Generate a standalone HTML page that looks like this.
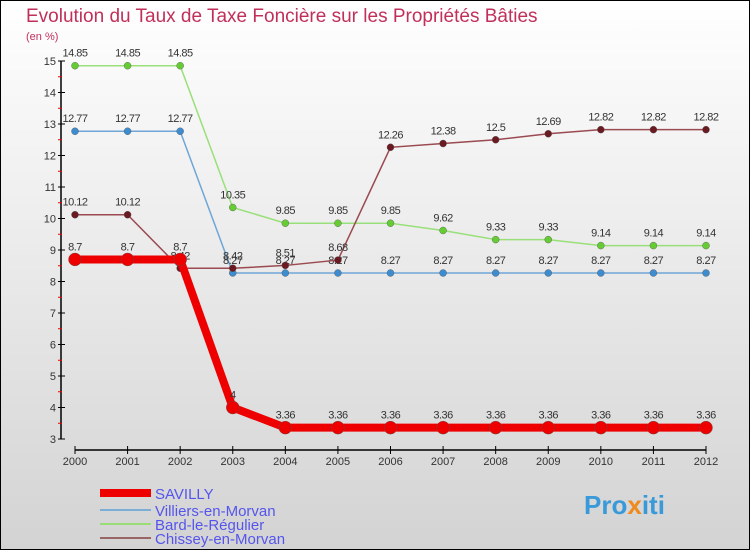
<!DOCTYPE html>
<html><head><meta charset="utf-8"><style>
body{margin:0}
#wrap{width:750px;height:550px;position:relative;overflow:hidden}
svg text{font-family:"Liberation Sans",sans-serif}
</style></head><body>
<div id="wrap">
<svg id="c" width="750" height="550" xmlns="http://www.w3.org/2000/svg">
<defs><linearGradient id="bg" x1="0" y1="0" x2="0" y2="1"><stop offset="0" stop-color="#ffffff"/><stop offset="1" stop-color="#d3d3d3"/></linearGradient></defs>
<rect x="0.5" y="0.5" width="749" height="549" fill="url(#bg)" stroke="#000"/>
<text x="26" y="22" font-size="19" fill="#c0305a">Evolution du Taux de Taxe Foncière sur les Propriétés Bâties</text>
<text x="26" y="40" font-size="11" fill="#c0305a">(en %)</text>
<g id="g"></g>
<text x="584" y="514" font-size="26" font-weight="bold" fill="#3a9ad9">Pro<tspan fill="#f08a1c">x</tspan>iti</text>
</svg></div>
<script>
const years=["2000","2001","2002","2003","2004","2005","2006","2007","2008","2009","2010","2011","2012"];
const yTicks=[3,4,5,6,7,8,9,10,11,12,13,14,15];
const savilly=[8.7,8.7,8.7,4,3.36,3.36,3.36,3.36,3.36,3.36,3.36,3.36,3.36];
const villiers=[12.77,12.77,12.77,8.27,8.27,8.27,8.27,8.27,8.27,8.27,8.27,8.27,8.27];
const bard=[14.85,14.85,14.85,10.35,9.85,9.85,9.85,9.62,9.33,9.33,9.14,9.14,9.14];
const chissey=[10.12,10.12,8.42,8.42,8.51,8.68,12.26,12.38,12.5,12.69,12.82,12.82,12.82];
const names=["SAVILLY","Villiers-en-Morvan","Bard-le-Régulier","Chissey-en-Morvan"];
const NS="http://www.w3.org/2000/svg";
const g=document.getElementById('g');
const X=i=>75+i*(706-75)/(years.length-1);
const Y=v=>439-(v-3)*(439-61)/12;
function el(t,a,p){const e=document.createElementNS(NS,t);for(const k in a)e.setAttribute(k,a[k]);(p||g).appendChild(e);return e;}
let ax=el('line',{x1:61,y1:Y(15),x2:61,y2:Y(3),stroke:'#000','stroke-width':1.5});


yTicks.forEach(v=>{
 el('line',{x1:58,y1:Y(v),x2:65,y2:Y(v),stroke:'#000'});
 if(v<15){el('line',{x1:58,y1:Y(v+0.5),x2:62,y2:Y(v+0.5),stroke:'#e00'});}
 const t=el('text',{x:56,y:Y(v)+4,'font-size':11,'text-anchor':'end',fill:'#333'});
 t.textContent=v;
 
 
});
let xa=el('line',{x1:X(0),y1:450,x2:X(12),y2:450,stroke:'#000','stroke-width':1.5});


years.forEach((y,i)=>{
 el('line',{x1:X(i),y1:446,x2:X(i),y2:454,stroke:'#000'});
 const t=el('text',{x:X(i),y:465,'font-size':11,'text-anchor':'middle',fill:'#333'});
 t.textContent=y;
 
 
});
function series(vals,color,dot,w,r,name){
 const p=el('polyline',{points:vals.map((v,i)=>X(i)+','+Y(v)).join(' '),fill:'none',stroke:color,'stroke-width':w});
 
 
 vals.forEach((v,i)=>{
  const c=el('circle',{cx:X(i),cy:Y(v),r:r,fill:dot,stroke:'#555','stroke-width':0.4});
  
  
  const t=el('text',{x:X(i),y:Y(v)-9,'font-size':11,'text-anchor':'middle',fill:'#333','letter-spacing':'-0.5'});
  t.textContent=v;
  
  
 });
}
series(villiers,'#6fa6d6','#3d8cd0',1.5,3.5,'villiers');
series(bard,'#99e07a','#66cc33',1.5,3.5,'bard');
series(chissey,'#9a4a50','#6b1a22',1.5,3.5,'chissey');
series(savilly,'#ee0000','#ee0000',8,6.5,'savilly');
const lc=['#ee0000','#7aaed6','#99dd77','#996666'],lw=[8,2,2,2];
names.forEach((n,i)=>{
 const yy=[493,510,524,538][i];
 const l=el('line',{x1:100,y1:yy,x2:151,y2:yy,stroke:lc[i],'stroke-width':lw[i]});
 
 
 const t=el('text',{x:155,y:yy+6,'font-size':15,fill:'#5555ee'});
 t.textContent=n;
 
 
});
</script>
</body></html>
